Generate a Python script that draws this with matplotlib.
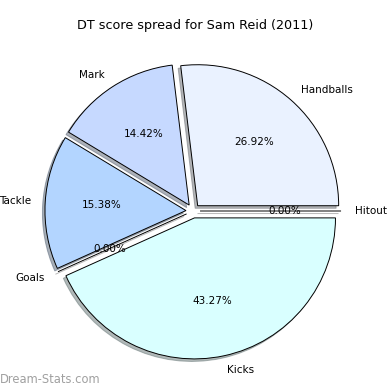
import matplotlib
matplotlib.use("Agg")
import matplotlib.pyplot as plt

# Slices in drawing order (counter-clockwise from 3 o'clock)
labels = ["Hitout", "Handballs", "Mark", "Tackle", "Goals", "Kicks"]
shares = [0.00, 26.92, 14.42, 15.38, 0.00, 43.27]
colors = ["#ffffff", "#eaf2ff", "#c6d9ff", "#b3d5ff", "#ffffff", "#d9ffff"]
explode = [0.05] * len(labels)

fig = plt.figure(figsize=(3.9, 3.9), dpi=100)
ax = fig.add_axes([0, 0, 1, 1])

wedges, texts, autotexts = ax.pie(
    shares, labels=labels, colors=colors, explode=explode,
    autopct="%1.2f%%", startangle=0,
    shadow={"ox": -0.013, "oy": -0.013, "shade": 0.55},
    wedgeprops={"edgecolor": "black", "linewidth": 0.7},
    textprops={"fontsize": 7.5},
)

# place pie so radius ~141 px, centre ~(193, 211) from top-left
r = 141.0
ax.set_xlim(-193 / r, 197 / r)
ax.set_ylim(-179 / r, 211 / r)
ax.set_aspect("equal")
ax.axis("off")

fig.text(0.5, 0.935, "DT score spread for Sam Reid (2011)",
         ha="center", va="center", fontsize=9.2)
fig.text(0.0, 0.026, "Dream-Stats.com", ha="left", va="center",
         fontsize=8.3, color="#a0a0a0")

fig.savefig("out.png", dpi=100)
